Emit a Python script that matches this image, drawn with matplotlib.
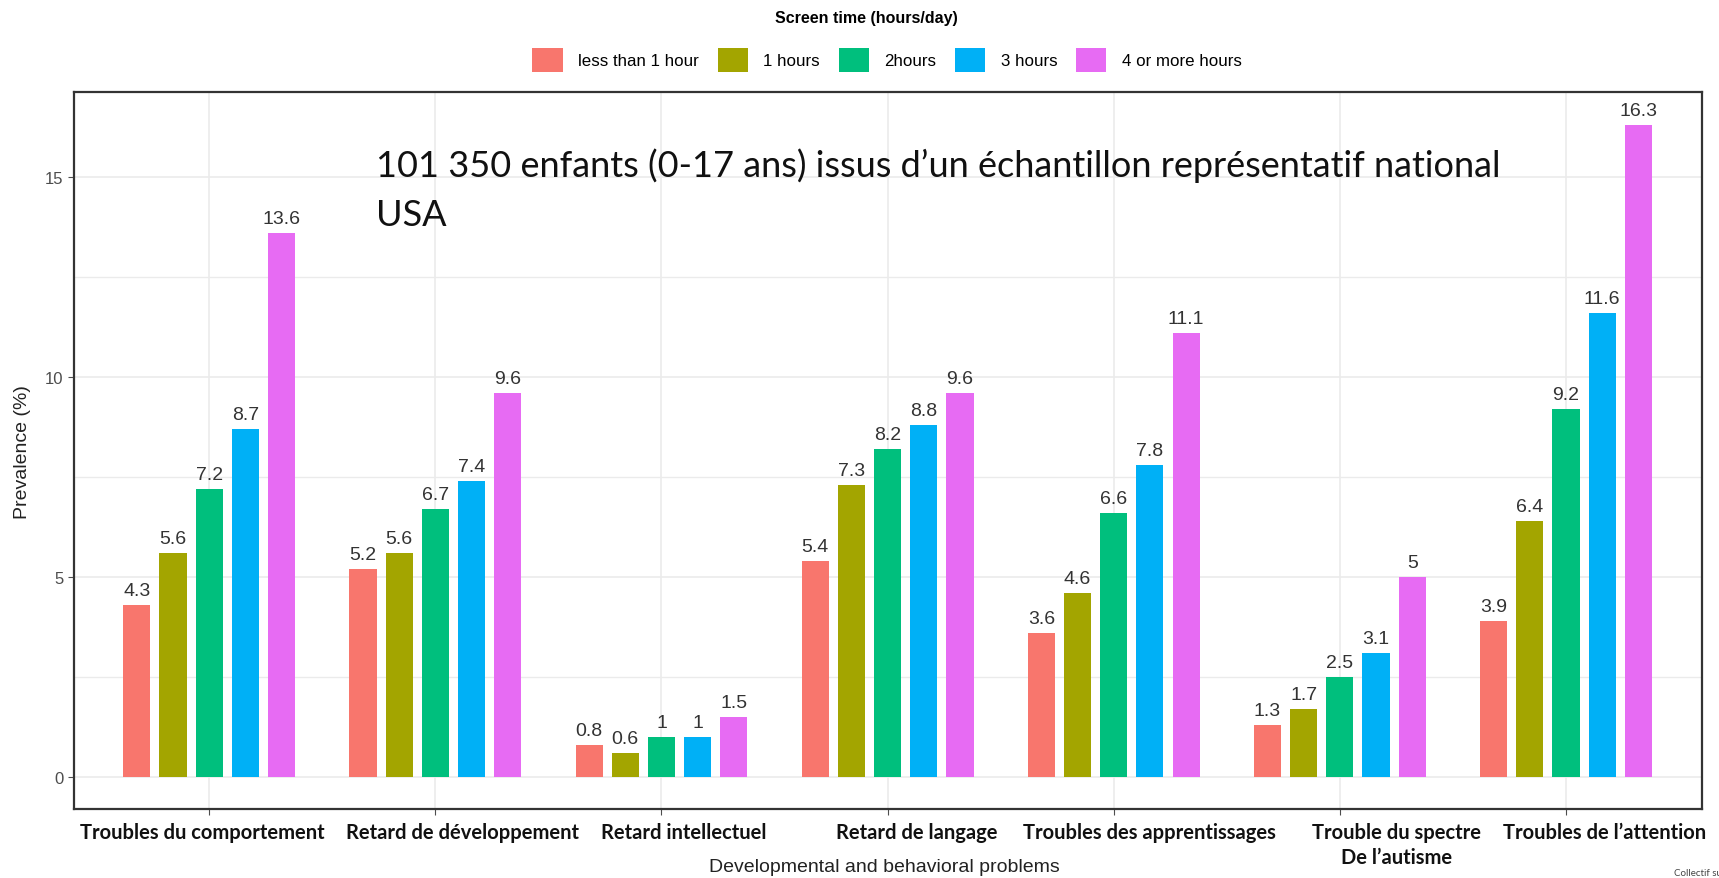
import matplotlib.pyplot as plt
import numpy as np

# Data
categories = ["Troubles du comportement", "Retard de développement", "Retard intellectuel",
              "Retard de langage", "Troubles des apprentissages",
              "Trouble du spectre\nDe l\u2019autisme", "Troubles de l\u2019attention"]
label_shift = [-0.03, 0.12, 0.10, 0.13, 0.16, 0.25, 0.17]
screen_time = ["less than 1 hour", "1 hours", "2hours", "3 hours", "4 or more hours"]
less_than_1 = [4.3, 5.2, 0.8, 5.4, 3.6, 1.3, 3.9]
one_hour = [5.6, 5.6, 0.6, 7.3, 4.6, 1.7, 6.4]
two_hours = [7.2, 6.7, 1.0, 8.2, 6.6, 2.5, 9.2]
three_hours = [8.7, 7.4, 1.0, 8.8, 7.8, 3.1, 11.6]
four_plus = [13.6, 9.6, 1.5, 9.6, 11.1, 5.0, 16.3]
colors = ["#F8766D", "#A3A500", "#00BF7D", "#00B0F6", "#E76BF3"]

series = [less_than_1, one_hour, two_hours, three_hours, four_plus]

fig = plt.figure(figsize=(17.19, 8.79), dpi=100)
ax = fig.add_axes([0.0428, 0.0783, 0.9471, 0.8159])

x = np.arange(1, len(categories) + 1)
step = 0.16
width = 0.12
handles = []
for i, (vals, col, name) in enumerate(zip(series, colors, screen_time)):
    pos = x + (i - 2) * step
    b = ax.bar(pos, vals, width=width, color=col, label=name, zorder=3)
    handles.append(b)
    for p, v in zip(pos, vals):
        ax.annotate(f"{v:g}", (p, v), xytext=(0, 7), textcoords="offset points",
                    ha="center", va="baseline", fontsize=14, color="#333333",
                    family="Liberation Sans")

ax.set_xlim(0.4, 7.6)
ax.set_ylim(-0.815, 17.115)
ax.set_yticks([0, 5, 10, 15])
ax.set_yticks([2.5, 7.5, 12.5], minor=True)
ax.set_xticks(x)
ax.set_xticklabels([""] * len(x))
ax.tick_params(axis="y", which="major", labelsize=12, labelcolor="#4D4D4D",
               color="#4D4D4D", length=4)
ax.tick_params(axis="y", which="minor", length=0)
ax.tick_params(axis="x", color="#4D4D4D", length=4)
for lab in ax.get_yticklabels():
    lab.set_family("Liberation Sans")
ax.grid(True, which="major", color="#EBEBEB", lw=1.2, zorder=0)
ax.grid(True, which="minor", axis="y", color="#EBEBEB", lw=1.0, zorder=0)
for s in ax.spines.values():
    s.set_color("#333333")
    s.set_linewidth(1.6)

# category labels (bold, overlaid)
for xi, name, dx in zip(x, categories, label_shift):
    ax.text(xi + dx, -0.018, name, transform=ax.get_xaxis_transform(),
            ha="center", va="top", fontsize=14.5, fontweight="bold",
            family="Lato", linespacing=1.3, color="#111111")

fig.text(884 / 1719, 1 - 868 / 879, "Developmental and behavioral problems", fontsize=14,
         family="Liberation Sans", color="#222222", ha="center", va="center")
ax.set_ylabel("Prevalence (%)", fontsize=14, family="Liberation Sans",
              color="#222222", labelpad=10)

ax.text(376 / 1719, 1 - 177 / 879, "101 350 enfants (0-17 ans) issus d\u2019un échantillon représentatif national",
        transform=fig.transFigure, fontsize=26, family="Lato", ha="left", va="baseline",
        color="#111111")
ax.text(376 / 1719, 1 - 226 / 879, "USA",
        transform=fig.transFigure, fontsize=26, family="Lato", ha="left", va="baseline",
        color="#111111")

# legend
fig.text(866 / 1719, 1 - 19 / 879, "Screen time (hours/day)", ha="center", va="center",
         fontsize=11.5, fontweight="bold", family="Liberation Sans")
fig.legend(handles=handles, labels=screen_time, loc="center", ncol=5,
           bbox_to_anchor=(887 / 1719, 1 - 61 / 879), frameon=False,
           prop={"family": "Liberation Sans", "size": 12.2},
           handlelength=1.8, handleheight=1.8, handletextpad=0.9, columnspacing=1.1)

fig.text(1674 / 1719, 1 - 874 / 879, "Collectif surexposition écrans", fontsize=7,
         family="Lato", color="#444444", ha="left", va="center")

fig.savefig("out.png", dpi=100, facecolor="white")
